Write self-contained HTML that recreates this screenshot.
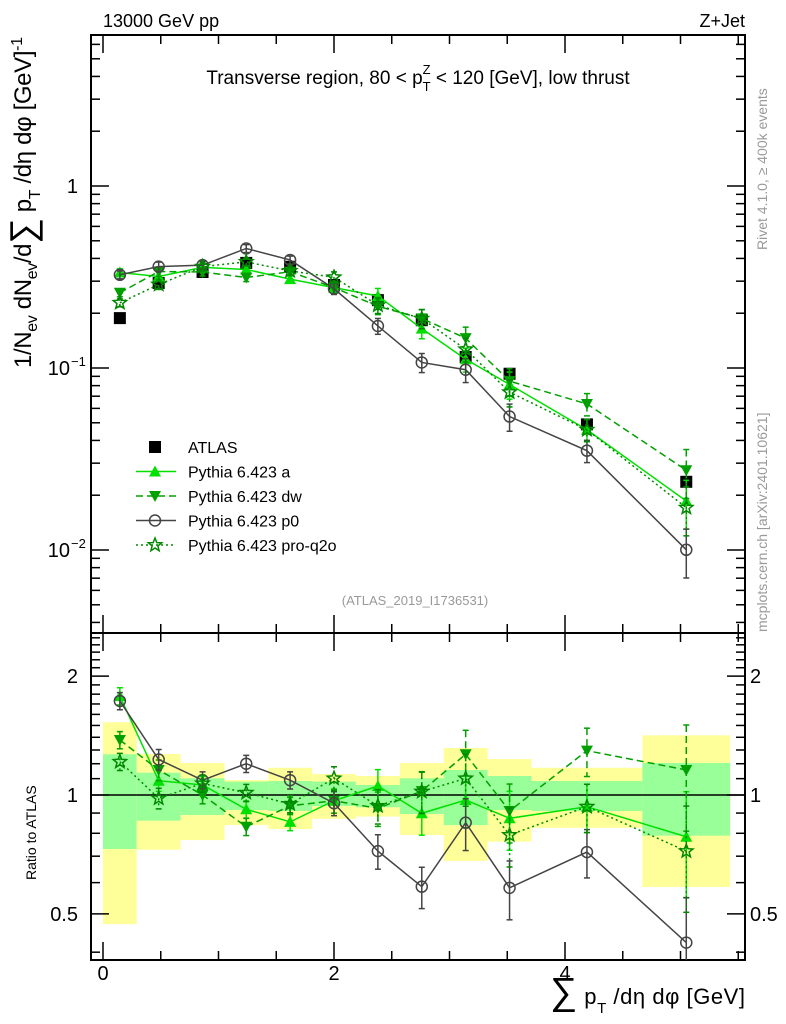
<!DOCTYPE html>
<html><head><meta charset="utf-8"><style>
html,body{margin:0;padding:0;background:#fff;}
svg{display:block;font-family:"Liberation Sans","DejaVu Sans",sans-serif;}
</style></head><body>
<svg id="chart" width="786" height="1024" xmlns="http://www.w3.org/2000/svg">
<defs>
<clipPath id="clipMain"><rect x="91" y="35" width="654" height="598"/></clipPath>
<clipPath id="clipRatio"><rect x="91" y="633" width="654" height="327"/></clipPath>
</defs>
<text x="103" y="27" font-size="18">13000 GeV pp</text>
<text x="745" y="27" font-size="18" text-anchor="end">Z+Jet</text>
<text x="418" y="84" font-size="19" text-anchor="middle">Transverse region, 80 &lt; p<tspan font-size="13" dy="7">T</tspan><tspan font-size="13" dx="-8" dy="-17">Z</tspan><tspan dy="10"> &lt; 120 [GeV], low thrust</tspan></text>
<text x="415" y="605" font-size="13" fill="#999" text-anchor="middle">(ATLAS_2019_I1736531)</text>
<text transform="translate(767,250) rotate(-90)" font-size="14" fill="#999">Rivet 4.1.0, ≥ 400k events</text>
<text transform="translate(767,632) rotate(-90)" font-size="14" fill="#999">mcplots.cern.ch [arXiv:2401.10621]</text>
<text transform="translate(31,368) rotate(-90)" font-size="24" textLength="331" lengthAdjust="spacing">1/N<tspan font-size="16" dy="6">ev</tspan><tspan dy="-6"> dN</tspan><tspan font-size="16" dy="6">ev</tspan><tspan dy="-6">/d</tspan><tspan font-size="36" dy="4">∑</tspan><tspan dy="-4"> p</tspan><tspan font-size="16" dy="9">T</tspan><tspan dy="-9"> /dη dφ  [GeV]</tspan><tspan font-size="16" dy="-9">-1</tspan></text>
<text transform="translate(36,880) rotate(-90)" font-size="14">Ratio to ATLAS</text>
<text x="550" y="1004" font-size="22" textLength="195" lengthAdjust="spacing"><tspan font-size="38">∑</tspan> p<tspan font-size="15" dy="9">T</tspan><tspan dy="-9"> /dη dφ [GeV]</tspan></text>
<g id="bands" clip-path="url(#clipRatio)"></g><g id="grid"></g><g id="marksM" clip-path="url(#clipMain)"></g><g id="marksR" clip-path="url(#clipRatio)"></g><g id="legend"></g>
</svg>
<script>
// ---- data ----
var binEdges = [0, 0.292, 0.672, 1.052, 1.431, 1.811, 2.19, 2.57, 2.95, 3.33, 3.71, 4.67, 5.43];
var xPoints = [0.146, 0.482, 0.862, 1.24, 1.62, 2.0, 2.38, 2.76, 3.14, 3.52, 4.19, 5.05];
var atlasValues = [0.188, 0.293, 0.337, 0.378, 0.36, 0.286, 0.236, 0.183, 0.115, 0.093, 0.049, 0.0237];
var ratioA = [1.78, 1.087, 1.06, 0.92, 0.855, 0.967, 1.054, 0.899, 0.971, 0.873, 0.934, 0.784];
var ratioDw = [1.378, 1.157, 1.0, 0.831, 0.939, 0.967, 0.925, 1.023, 1.268, 0.911, 1.295, 1.157];
var ratioP0 = [1.73, 1.23, 1.09, 1.20, 1.09, 0.953, 0.721, 0.586, 0.851, 0.582, 0.717, 0.423];
var ratioQ2o = [1.214, 0.981, 1.07, 1.013, 0.949, 1.102, 0.938, 1.02, 1.102, 0.792, 0.934, 0.721];
var mcRelErr = [0.05, 0.06, 0.05, 0.05, 0.05, 0.07, 0.1, 0.12, 0.15, 0.17, 0.14, 0.3];
var statUp = [1.268, 1.139, 1.102, 1.081, 1.085, 1.081, 1.060, 1.102, 1.157, 1.117, 1.085, 1.205];
var statDn = [0.730, 0.861, 0.890, 0.916, 0.911, 0.938, 0.931, 0.895, 0.839, 0.916, 0.911, 0.789];
var totUp = [1.528, 1.270, 1.205, 1.091, 1.172, 1.130, 1.117, 1.205, 1.315, 1.233, 1.172, 1.416];
var totDn = [0.471, 0.727, 0.769, 0.839, 0.820, 0.870, 0.882, 0.792, 0.681, 0.762, 0.826, 0.585];
var mainTicks = ["1", "10", "10"];
var ratioTickLabels = ["2", "1", "0.5"];
var xTickLabels = ["0", "2", "4"];

// ---- axes ----
var L=91,R=745,T=35,MB=633,RB=960;
function X(v){return 103+v*115.5;}
function Y(v){return 186-Math.log10(v)*182;}
function RY(r){return 795-Math.log10(r)*395;}
var NS="http://www.w3.org/2000/svg";
function mk(parent,tag,attrs){var e=document.createElementNS(NS,tag);for(var k in attrs)e.setAttribute(k,attrs[k]);document.getElementById(parent).appendChild(e);return e;}

for(var i=0;i<binEdges.length-1;i++){
  var x0=X(binEdges[i]),x1=X(binEdges[i+1]);
  var b=mk('bands','rect',{x:x0,y:RY(totUp[i]),width:x1-x0,height:RY(totDn[i])-RY(totUp[i]),fill:'#ffff99'});
  
  
  var g=mk('bands','rect',{x:x0,y:RY(statUp[i]),width:x1-x0,height:RY(statDn[i])-RY(statUp[i]),fill:'#99ff99'});
  
  
}
var ln=mk('grid','line',{x1:L,x2:R,y1:RY(1),y2:RY(1),stroke:'#000','stroke-width':1.5});



[[T,MB,'main-frame'],[MB,RB,'ratio-frame']].forEach(function(f){
  var r=mk('grid','rect',{x:L,y:f[0],width:R-L,height:f[1]-f[0],fill:'none',stroke:'#000','stroke-width':2});
  
  
});
function tick(x1,y1,x2,y2){mk('grid','line',{x1:x1,y1:y1,x2:x2,y2:y2,stroke:'#000','stroke-width':1.5});}
for(var d=-3;d<=0;d++){for(var m=1;m<10;m++){var v=m*Math.pow(10,d);var y=Y(v);if(y<T||y>MB)continue;var len=m==1?18:9;tick(L,y,L+len,y);tick(R,y,R-len,y);}}
mainTicks.forEach(function(t,k){
  var y=Y(Math.pow(10,-k));
  var tx=mk('grid','text',{x:k==0?78:70,y:y+7,'font-size':20,'text-anchor':'end'});
  
  
  tx.textContent=t;
  if(k>0){var s=mk('grid','text',{x:71,y:y-2,'font-size':13});s.textContent='−'+k;
    
    }
});
[0.4,0.5,0.6,0.7,0.8,0.9,1,1.1,1.2,1.3,1.4,1.5,1.6,1.7,1.8,1.9,2,2.1,2.2,2.3,2.4,2.5].forEach(function(r){var y=RY(r);if(y<MB||y>RB)return;var big=(r==0.5||r==1||r==2);var len=big?18:9;tick(L,y,L+len,y);tick(R,y,R-len,y);});
[2,1,0.5].forEach(function(r,k){
  var y=RY(r);
  var a=mk('grid','text',{x:78,y:y+7,'font-size':20,'text-anchor':'end'});a.textContent=ratioTickLabels[k];
  
  
  var b=mk('grid','text',{x:750,y:y+7,'font-size':20});b.textContent=ratioTickLabels[k];
  
  
});
for(var v=0;v<=5.5;v+=0.5){var x=X(v);var big=(v%2==0);var len=big?18:9;
  [MB,RB].forEach(function(yb){tick(x,yb,x,yb-len);});tick(x,T,x,T+len);tick(x,MB,x,MB+len);}
xTickLabels.forEach(function(t,k){var tx=mk('grid','text',{x:X(k*2),y:980,'font-size':20,'text-anchor':'middle'});tx.textContent=t;
  
  });

function marker(parent,type,x,y,col){
  var e;
  if(type=='square')e=mk(parent,'rect',{x:x-6,y:y-6,width:12,height:12,fill:'#000'});
  else if(type=='up')e=mk(parent,'polygon',{points:(x)+','+(y-6)+' '+(x-6)+','+(y+5)+' '+(x+6)+','+(y+5),fill:col});
  else if(type=='down')e=mk(parent,'polygon',{points:(x)+','+(y+6)+' '+(x-6)+','+(y-5)+' '+(x+6)+','+(y-5),fill:col});
  else if(type=='circle')e=mk(parent,'circle',{cx:x,cy:y,r:5.5,fill:'none',stroke:col,'stroke-width':1.5});
  else {var p=[];for(var k=0;k<10;k++){var a=-Math.PI/2+k*Math.PI/5,rr=k%2?3:7;p.push((x+rr*Math.cos(a)).toFixed(1)+','+(y+rr*Math.sin(a)).toFixed(1));}
    e=mk(parent,'polygon',{points:p.join(' '),fill:'none',stroke:col,'stroke-width':1.5});}
  return e;
}
var series=[
  {name:'Pythia 6.423 a',ratio:ratioA,col:'#00e000',dash:'',m:'up',id:'pythia-a'},
  {name:'Pythia 6.423 dw',ratio:ratioDw,col:'#00a000',dash:'7,4',m:'down',id:'pythia-dw'},
  {name:'Pythia 6.423 p0',ratio:ratioP0,col:'#444444',dash:'',m:'circle',id:'pythia-p0'},
  {name:'Pythia 6.423 pro-q2o',ratio:ratioQ2o,col:'#008800',dash:'2,3',m:'star',id:'pythia-pro-q2o'}
];
atlasValues.forEach(function(v,i){var e=marker('marksM','square',X(xPoints[i]),Y(v));
  
  });
series.forEach(function(s){
  var ptsM=[],ptsR=[];
  s.ratio.forEach(function(r,i){
    var v=r*atlasValues[i];var x=X(xPoints[i]);
    ptsM.push(x+','+Y(v));ptsR.push(x+','+RY(r));
    var er=mcRelErr[i];
    mk('marksM','line',{x1:x,x2:x,y1:Y(v*(1+er)),y2:Y(v*(1-er)),stroke:s.col,'stroke-width':1.5,'stroke-dasharray':s.dash});
    mk('marksR','line',{x1:x,x2:x,y1:RY(r*(1+er)),y2:RY(r*(1-er)),stroke:s.col,'stroke-width':1.5,'stroke-dasharray':s.dash});
    [Y(v*(1+er)),Y(v*(1-er))].forEach(function(yy){mk('marksM','line',{x1:x-3,x2:x+3,y1:yy,y2:yy,stroke:s.col,'stroke-width':1.5});});
    [RY(r*(1+er)),RY(r*(1-er))].forEach(function(yy){mk('marksR','line',{x1:x-3,x2:x+3,y1:yy,y2:yy,stroke:s.col,'stroke-width':1.5});});
    var a=marker('marksM',s.m,x,Y(v),s.col);
    
    
    var b=marker('marksR',s.m,x,RY(r),s.col);
    
    
  });
  var l1=mk('marksM','polyline',{points:ptsM.join(' '),fill:'none',stroke:s.col,'stroke-width':1.5,'stroke-dasharray':s.dash});
  
  
  var l2=mk('marksR','polyline',{points:ptsR.join(' '),fill:'none',stroke:s.col,'stroke-width':1.5,'stroke-dasharray':s.dash});
  
  
});
var lg=[{name:'ATLAS',m:'square',col:'#000',dash:null,id:'atlas'}].concat(series);
lg.forEach(function(s,k){
  var y=447+k*24.5;
  if(s.dash!==null){var l=mk('legend','line',{x1:136,x2:176,y1:y,y2:y,stroke:s.col,'stroke-width':1.5,'stroke-dasharray':s.dash});
    
    }
  var m=marker('legend',s.m,155,y,s.col);
  
  
  var t=mk('legend','text',{x:188,y:y+6,'font-size':16});t.textContent=s.name;
  
  
});
</script>
</body></html>
